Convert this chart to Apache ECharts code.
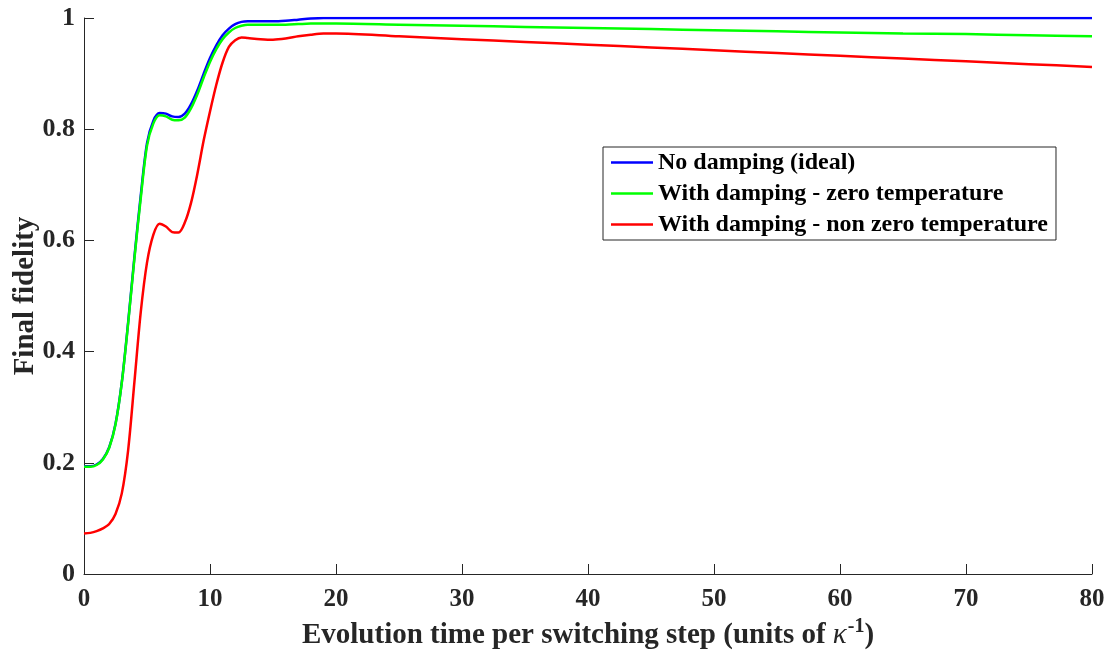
<!DOCTYPE html>
<html>
<head>
<meta charset="utf-8">
<script src="https://cdn.jsdelivr.net/npm/echarts@6/dist/echarts.min.js"></script>
<style>
  html, body { margin: 0; padding: 0; background: #fff; }
  #chart { width: 1120px; height: 655px; }
</style>
</head>
<body>
<div id="chart"></div>
<script>
// Evolution time per switching step (units of 1/kappa)
var times = [0,0.5,1,1.5,2,2.5,3,3.5,4,4.5,5,5.5,6,6.5,7,7.5,8,8.5,9,9.5,10,10.5,11,11.5,12,12.5,
             13,14,15,16,17,18,19,20,25,30,35,40,45,50,55,60,65,70,75,80];

// Final fidelity, no damping (ideal)
var fidelityIdeal = [0.194,0.194,0.197,0.207,0.228,0.270,0.345,0.452,0.570,0.680,
                     0.775,0.815,0.829,0.828,0.823,0.822,0.828,0.845,0.870,0.900,
                     0.928,0.951,0.969,0.981,0.989,0.993,
                     0.994,0.994,0.994,0.995,0.997,0.999,1.000,1.000,
                     1.000,1.000,1.000,1.000,1.000,1.000,1.000,1.000,1.000,1.000,1.000,1.000];

// Final fidelity, damping at zero temperature
var fidelityZeroT = [0.193,0.193,0.196,0.206,0.227,0.269,0.344,0.450,0.567,0.675,
                     0.770,0.810,0.825,0.823,0.817,0.816,0.821,0.838,0.863,0.893,
                     0.921,0.944,0.962,0.974,0.982,0.986,
                     0.988,0.988,0.988,0.988,0.989,0.990,0.990,0.990,
                     0.988,0.986,0.984,0.982,0.980,0.978,0.976,0.974,0.972,0.971,0.969,0.967];

// Final fidelity, damping at non-zero temperature
var fidelityFiniteT = [0.073,0.074,0.077,0.082,0.090,0.108,0.145,0.222,0.345,0.470,
                       0.560,0.610,0.630,0.625,0.615,0.614,0.632,0.668,0.720,0.780,
                       0.832,0.880,0.920,0.948,0.960,0.965,
                       0.964,0.962,0.961,0.963,0.967,0.970,0.972,0.972,
                       0.967,0.962,0.957,0.952,0.947,0.942,0.937,0.932,0.927,0.922,0.917,0.912];

var seriesNames = ['No damping (ideal)', 'With damping - zero temperature', 'With damping - non zero temperature'];
var seriesColors = ['#0000ff', '#00ff00', '#ff0000'];
var seriesValues = [fidelityIdeal, fidelityZeroT, fidelityFiniteT];

var FONT = "'Liberation Serif', 'Times New Roman', serif";

function pairs(ys) {
  return times.map(function (t, i) { return [t, ys[i]]; });
}

var chart = echarts.init(document.getElementById('chart'), null, { renderer: 'canvas' });

chart.setOption({
  animation: false,
  backgroundColor: '#ffffff',
  grid: { left: 84, right: 28, top: 18, bottom: 81, containLabel: false, outerBoundsMode: 'none' },
  legend: {
    orient: 'vertical',
    left: 603,
    top: 147,
    padding: [2, 8, 2, 8],
    itemGap: 4,
    itemWidth: 42,
    itemHeight: 2.5,
    icon: 'rect',
    backgroundColor: '#ffffff',
    borderColor: '#262626',
    borderWidth: 1,
    borderRadius: 0,
    textStyle: {
      fontFamily: FONT,
      fontWeight: 'bold',
      fontSize: 24,
      color: '#000',
      lineHeight: 27
    },
    data: seriesNames
  },
  xAxis: {
    type: 'value',
    min: 0,
    max: 80,
    interval: 10,
    name: '{a|Evolution time per switching step (units of }{k|κ}{s|-1}{a|)}',
    nameLocation: 'middle',
    nameGap: 43,
    nameMoveOverlap: false,
    nameTextStyle: {
      rich: {
        a: { fontFamily: FONT, fontWeight: 'bold', fontSize: 29, color: '#262626', verticalAlign: 'bottom' },
        k: { fontFamily: FONT, fontStyle: 'italic', fontSize: 29, color: '#262626', verticalAlign: 'bottom' },
        s: { fontFamily: FONT, fontWeight: 'bold', fontSize: 20, color: '#262626', verticalAlign: 'bottom', padding: [0, 0, 13, 1] }
      }
    },
    axisLine: { show: true, onZero: false, lineStyle: { color: '#262626', width: 1 } },
    axisTick: { show: true, inside: true, length: 10, lineStyle: { color: '#262626', width: 1 } },
    axisLabel: { fontFamily: FONT, fontWeight: 'bold', fontSize: 25, color: '#262626', margin: 13 },
    splitLine: { show: false }
  },
  yAxis: {
    type: 'value',
    min: 0,
    max: 1,
    interval: 0.2,
    name: 'Final fidelity',
    nameLocation: 'middle',
    nameGap: 44,
    nameMoveOverlap: false,
    nameRotate: 90,
    nameTextStyle: { fontFamily: FONT, fontWeight: 'bold', fontSize: 29, color: '#262626' },
    axisLine: { show: true, onZero: false, lineStyle: { color: '#262626', width: 1 } },
    axisTick: { show: true, inside: true, length: 10, lineStyle: { color: '#262626', width: 1 } },
    axisLabel: { fontFamily: FONT, fontWeight: 'bold', fontSize: 26, color: '#262626', margin: 9 },
    splitLine: { show: false }
  },
  series: seriesNames.map(function (name, i) {
    return {
      name: name,
      type: 'line',
      data: pairs(seriesValues[i]),
      smooth: 0.3,
      showSymbol: false,
      symbol: 'none',
      clip: true,
      z: 2 + i,
      lineStyle: { color: seriesColors[i], width: 2.5 },
      itemStyle: { color: seriesColors[i] }
    };
  })
});
</script>
</body>
</html>
